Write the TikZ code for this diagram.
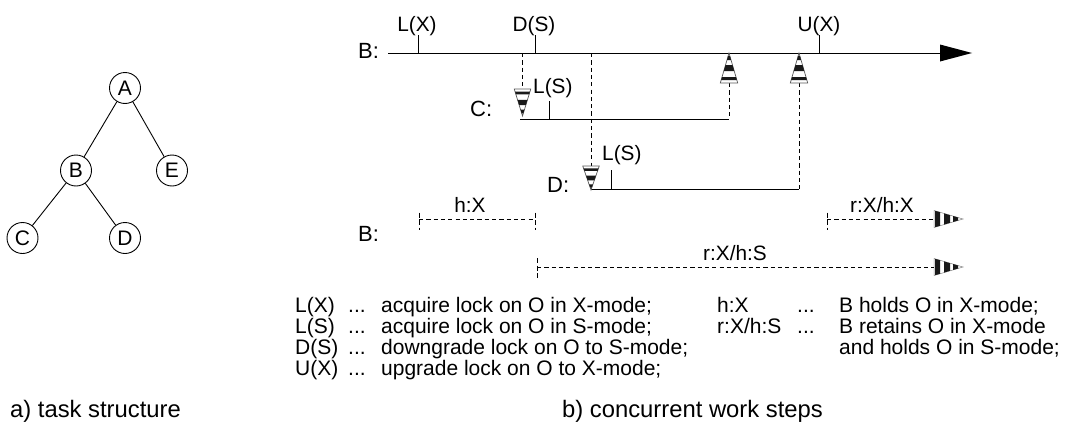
\documentclass[tikz,border=0pt]{standalone}
\usepackage{fontspec}
\setmainfont{Liberation Sans}
\tikzset{
  tnode/.style={circle,draw,line width=0.9pt,fill=white,minimum size=31pt,inner sep=0pt,font=\fontsize{21}{21}\selectfont},
  tedge/.style={line width=0.9pt},
  lbl/.style={inner sep=0pt,font=\fontsize{22}{22}\selectfont},
  mark label/.style={inner sep=0pt,anchor=base,font=\fontsize{20.8}{21}\selectfont},
  legendrow/.style={inner sep=0pt,anchor=base west,font=\fontsize{21}{21}\selectfont},
  captiontext/.style={inner sep=0pt,anchor=base west,font=\fontsize{23.8}{24}\selectfont},
  solid line/.style={line width=1pt},
  dash line/.style={line width=0.9pt,dash pattern=on 4.2pt off 3.1pt},
  end tick/.style={line width=0.7pt,dash pattern=on 5pt off 2.5pt},
  pics/cone/.style={code={
    \fill[white] (0,0) -- (-29,-8.5) -- (-29,8.5) -- cycle;
    \draw[line width=0.5pt,gray] (0,0) -- (-29,-8.5) -- (-29,8.5) -- cycle;
    \fill[black!90] (-5,-1.5) -- (-5,1.5) -- (-10,3) -- (-10,-3) -- cycle;
    \fill[black!90] (-13,-3.8) -- (-13,3.8) -- (-19,5.6) -- (-19,-5.6) -- cycle;
    \fill[black!90] (-23,-6.8) -- (-23,6.8) -- (-28,8.2) -- (-28,-8.2) -- cycle;
  }},
  pics/wcone/.style={code={
    \fill[white] (0,0) -- (-30,-8.7) -- (-30,8.7) -- cycle;
    \draw[line width=0.7pt,black!65] (0,0) -- (-30,-8.7) -- (-30,8.7) -- cycle;
    \fill[black!90] (-3,-0.9) -- (-3,0.9) -- (-7,2) -- (-7,-2) -- cycle;
    \fill[black!90] (-12,-3.5) -- (-12,3.5) -- (-18,5.2) -- (-18,-5.2) -- cycle;
    \fill[black!90] (-24,-7) -- (-24,7) -- (-27,7.8) -- (-27,-7.8) -- cycle;
  }},
}
\begin{document}
\begin{tikzpicture}[x=1pt,y=-1pt]
\useasboundingbox (0,0) rectangle (1065,423);
% tree
\node[tnode] (A) at (125,88) {A};
\node[tnode] (B) at (76,170.5) {B};
\node[tnode] (E) at (172,170.5) {E};
\node[tnode] (C) at (22.5,238) {C};
\node[tnode] (D) at (125,238) {D};
\draw[tedge] (A) -- (B);
\draw[tedge] (A) -- (E);
\draw[tedge] (B) -- (C);
\draw[tedge] (B) -- (D);
% coordinates
\coordinate (bstart) at (388,53);
\coordinate (bend) at (941,53);
\coordinate (lxb) at (418.5,53);  \coordinate (lxt) at (418.5,35);
\coordinate (dsb) at (535,53);  \coordinate (dst) at (535,35);
\coordinate (uxb) at (819,53);  \coordinate (uxt) at (819,35);
\coordinate (c1) at (522.5,53); \coordinate (c2) at (522.5,89);
\coordinate (d1) at (591,53);   \coordinate (d2) at (591,166);
\coordinate (cs) at (520,119);  \coordinate (ce) at (729,119);
\coordinate (ct) at (549,119);  \coordinate (ctt) at (549,101);
\coordinate (ds) at (591,189);  \coordinate (de) at (799,189);
\coordinate (dt) at (611,189);  \coordinate (dtt) at (611,170);
\coordinate (u1) at (729,83);
\coordinate (u2) at (799,83);
\coordinate (h1) at (419,219);  \coordinate (h2) at (535,219);
\coordinate (r1) at (827,219);  \coordinate (r2) at (934,219);
\coordinate (s1) at (537,267);  \coordinate (s2) at (934,267);
% main line
\draw[solid line] (bstart) -- (bend);
\fill (972,53) -- (940,44.5) -- (940,61.5) -- cycle;
\draw[solid line] (lxb) -- (lxt);
\draw[solid line] (dsb) -- (dst);
\draw[solid line] (uxb) -- (uxt);
\node[mark label] (tlx) at (417,31) {L(X)};
\node[mark label] (tds) at (534,31) {D(S)};
\node[mark label] (tux) at (819,31) {U(X)};
\node[lbl,anchor=base west] (tb1) at (358,58) {B:};
\node[lbl,anchor=base west] (tc) at (470,116) {C:};
\node[lbl,anchor=base west] (td) at (547,192.5) {D:};
\node[lbl,anchor=base west] (tb2) at (358,241.5) {B:};
% C and D bars
\draw[dash line] (c1) -- (c2);
\draw[dash line] (d1) -- (d2);
\draw[solid line] (cs) -- (ce);
\draw[solid line] (ct) -- (ctt);
\draw[solid line] (ds) -- (de);
\draw[solid line] (dt) -- (dtt);
\draw[dash line] (u1) -- (ce);
\draw[dash line] (u2) -- (de);
\node[mark label,anchor=base west] (tcs) at (533,93) {L(S)};
\node[mark label,anchor=base west] (tdl) at (602,160) {L(S)};
% cones
\pic[rotate=-90,xscale=0.9,yscale=0.95] at (522.5,116) {wcone};
\pic[rotate=-90,xscale=0.8,yscale=0.95] at (591,190) {wcone};
\pic[rotate=90] at (729,53) {wcone};
\pic[rotate=90] at (799,53) {wcone};
\pic at (963,219) {cone};
\pic at (963,267) {cone};
% held intervals
\draw[dash line] (h1) -- (h2);
\draw[end tick] (419,212.5) -- (419,230);
\draw[end tick] (535,212.5) -- (535,230);
\draw[dash line] (r1) -- (r2);
\draw[end tick] (827,212.5) -- (827,230);
\draw[dash line] (s1) -- (s2);
\draw[end tick] (537,258) -- (537,278);
\node[mark label] (thx) at (470,212) {h:X};
\node[mark label] (trx) at (882,212) {r:X/h:X};
\node[mark label] (trs) at (735,260) {r:X/h:S};
% legend
\node[legendrow] (l1a) at (295,312) {L(X)};
\node[legendrow] (l1b) at (348,312) {...};
\node[legendrow] (l1c) at (381,312) {acquire lock on O in X-mode;};
\node[legendrow] (l2a) at (295,333) {L(S)};
\node[legendrow] (l2b) at (348,333) {...};
\node[legendrow] (l2c) at (381,333) {acquire lock on O in S-mode;};
\node[legendrow] (l3a) at (295,354) {D(S)};
\node[legendrow] (l3b) at (348,354) {...};
\node[legendrow] (l3c) at (381,354) {downgrade lock on O to S-mode;};
\node[legendrow] (l4a) at (295,375) {U(X)};
\node[legendrow] (l4b) at (348,375) {...};
\node[legendrow] (l4c) at (381,375) {upgrade lock on O to X-mode;};
\node[legendrow] (r1a) at (717,312) {h:X};
\node[legendrow] (r1b) at (797,312) {...};
\node[legendrow] (r1c) at (839,312) {B holds O in X-mode;};
\node[legendrow] (r2a) at (717,333) {r:X/h:S};
\node[legendrow] (r2b) at (797,333) {...};
\node[legendrow] (r2c) at (839,333) {B retains O in X-mode};
\node[legendrow] (r3c) at (839,354) {and holds O in S-mode;};
% captions
\node[captiontext] (capa) at (10,417) {a) task structure};
\node[captiontext] (capb) at (562,417) {b) concurrent work steps};
\end{tikzpicture}
\end{document}
